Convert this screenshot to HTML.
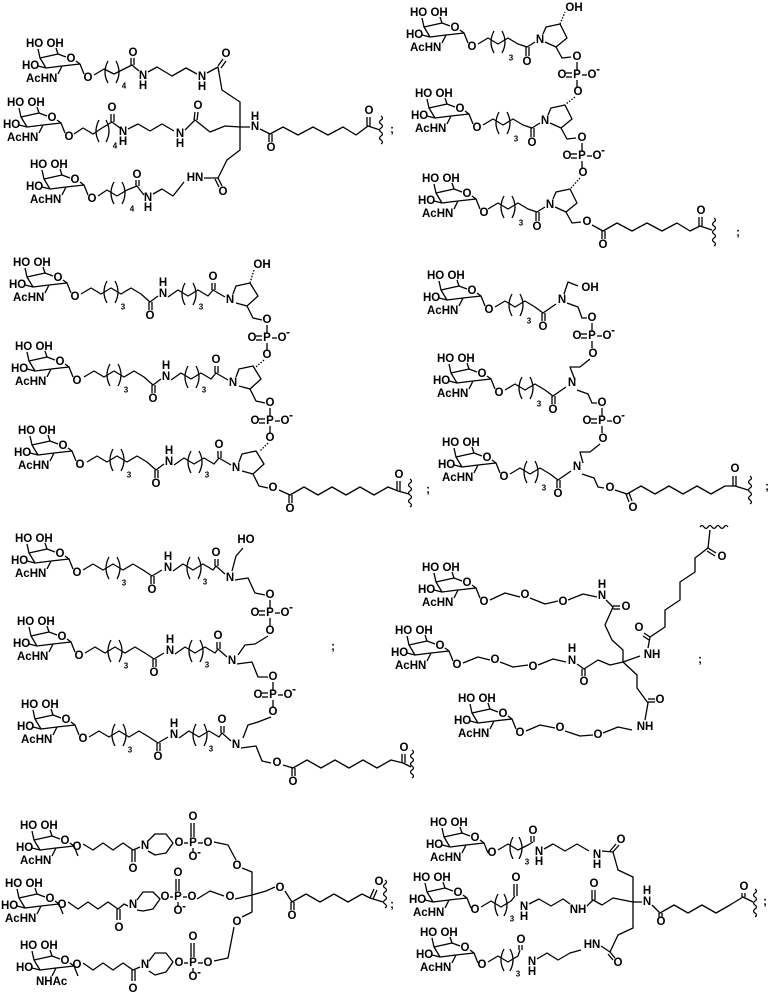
<!DOCTYPE html>
<html><head><meta charset="utf-8"><style>
html,body{margin:0;padding:0;background:#fff}
svg{display:block}
text{font-family:"Liberation Sans",Arial,sans-serif;font-weight:bold;font-size:11.5px;fill:#000;text-anchor:middle;dominant-baseline:central}
text.s{text-anchor:start;dominant-baseline:auto}
text.sub{font-size:8px}
.l{fill:none;stroke:#000;stroke-width:1.3;stroke-linejoin:round}
</style></head><body>
<svg width="770" height="1000" viewBox="0 0 770 1000" xmlns="http://www.w3.org/2000/svg">
<defs>
<g id="sg" class="l">
<polyline points="12,11 14,20 32,16 40,19"/>
<polyline points="32,16 30,10"/>
<polyline points="14,20 20,30 36,28 54,26 50,23"/>
<polyline points="12,28 20,30"/>
<polyline points="36,28 32,36"/>
<polyline points="54,26 58,36"/>
</g>
<path id="sq" class="l" d="M0,0 q3,2 0,4 q-3,2 0,4 q3,2 0,4 q-3,2 0,4 q3,2 0,4 q-3,2 0,4 q3,2 0,4"/>
<path id="sqh" class="l" d="M0,0 q2,-3 4,0 q2,3 4,0 q2,-3 4,0 q2,3 4,0 q2,-3 4,0 q2,3 4,0 q2,-3 4,0"/>
<path id="pl" class="l" d="M4,-11 Q-2,0 4,11"/>
<path id="pr" class="l" d="M-4,-11 Q2,0 -4,11"/>
</defs>

<!-- ring O labels -->
<g font-size="11">
<text x="71" y="59">O</text><text x="52" y="118">O</text><text x="75" y="180">O</text>
<text x="455" y="28">O</text><text x="460" y="109">O</text><text x="467" y="194">O</text>
<text x="58" y="278">O</text><text x="60" y="362">O</text><text x="63" y="446">O</text>
<text x="472" y="291">O</text><text x="482" y="374">O</text><text x="487" y="458">O</text>
<text x="60" y="554">O</text><text x="62" y="637">O</text><text x="66" y="720">O</text>
<text x="467" y="583">O</text><text x="440" y="646">O</text><text x="503" y="714">O</text>
<text x="65" y="841">O</text><text x="50" y="899">O</text><text x="65" y="961">O</text>
<text x="475" y="838">O</text><text x="458" y="893">O</text><text x="465" y="948">O</text>
</g>

<!-- S1 -->
<use href="#sg" x="26" y="38"/><text class="s" x="26" y="47">HO OH</text><text class="s" x="22" y="69">HO</text><text class="s" x="26" y="82">AcHN</text><text x="88" y="78">O</text>
<use href="#sg" x="7" y="97"/><text class="s" x="7" y="106">HO OH</text><text class="s" x="3" y="128">HO</text><text class="s" x="7" y="141">AcHN</text><text x="69" y="137">O</text>
<use href="#sg" x="30" y="159"/><text class="s" x="30" y="168">HO OH</text><text class="s" x="26" y="190">HO</text><text class="s" x="30" y="203">AcHN</text><text x="92" y="199">O</text>
<g>
<polyline class="l" points="94,75 104,69 114,74 124,69 132,65 139,71"/>
<polyline class="l" points="131,65 131,58"/><polyline class="l" points="134,65 134,58"/><text x="133" y="53">O</text>
<use href="#pl" x="104" y="72"/><use href="#pr" x="120" y="72"/><text class="sub" x="124" y="86">4</text>
<text x="143" y="76">N</text><text x="143" y="86">H</text>
<polyline class="l" points="148,72 157,67 172,76 186,68 197,74"/>
<text x="202" y="77">N</text><text x="202" y="87">H</text>
<polyline class="l" points="207,73 218,67 222,90 240,102 240,127"/>
<polyline class="l" points="218,66 223,59"/><polyline class="l" points="221,68 226,61"/><text x="226" y="54">O</text>

<polyline class="l" points="74,134 83,128 93,134 102,128 112,122 120,128"/>
<polyline class="l" points="111,122 111,114"/><polyline class="l" points="114,122 114,114"/><text x="112" y="108">O</text>
<use href="#pl" x="95" y="131"/><use href="#pr" x="110" y="131"/><text class="sub" x="115" y="146">4</text>
<text x="123" y="132">N</text><text x="123" y="142">H</text>
<polyline class="l" points="128,129 138,124 150,131 162,124 174,131"/>
<text x="180" y="134">N</text><text x="180" y="144">H</text>
<polyline class="l" points="185,130 195,120 210,132 225,126 240,127 250,127"/>
<polyline class="l" points="194,120 195,112"/><polyline class="l" points="197,120 198,112"/><text x="198" y="106">O</text>
<text x="255" y="127">N</text><text x="255" y="117">H</text>
<polyline class="l" points="260,129 270,134 283,127 298,135 313,127 328,135 343,127 356,135 368,126 380,130"/>
<polyline class="l" points="269,134 269,142"/><polyline class="l" points="272,134 272,142"/><text x="271" y="148">O</text>
<polyline class="l" points="367,126 367,117"/><polyline class="l" points="370,126 370,117"/><text x="369" y="111">O</text>
<use href="#sq" x="381" y="116"/><text x="392" y="130">;</text>

<polyline class="l" points="98,196 107,190 117,196 127,190 137,186 144,195"/>
<polyline class="l" points="136,186 136,180"/><polyline class="l" points="139,186 139,180"/><text x="137" y="175">O</text>
<use href="#pl" x="110" y="193"/><use href="#pr" x="126" y="193"/><text class="sub" x="132" y="209">4</text>
<text x="148" y="198">N</text><text x="148" y="208">H</text>
<polyline class="l" points="153,194 162,189 173,196 184,182"/>
<text x="195" y="178">HN</text>
<polyline class="l" points="204,178 218,178 227,160 240,150 240,127"/>
<polyline class="l" points="218,178 222,186"/><polyline class="l" points="215,179 219,187"/><text x="223" y="192">O</text>
</g>

<!-- S2 -->
<use href="#sg" x="410" y="7"/><text class="s" x="410" y="16">HO OH</text><text class="s" x="406" y="38">HO</text><text class="s" x="410" y="51">AcHN</text><text x="472" y="47">O</text>
<use href="#sg" x="415" y="88"/><text class="s" x="415" y="97">HO OH</text><text class="s" x="411" y="119">HO</text><text class="s" x="415" y="132">AcHN</text><text x="477" y="128">O</text>
<use href="#sg" x="422" y="173"/><text class="s" x="422" y="182">HO OH</text><text class="s" x="418" y="204">HO</text><text class="s" x="422" y="217">AcHN</text><text x="484" y="213">O</text>
<g>
<polyline class="l" points="478,44 488,38 498,44 508,38 518,44 527,47 535,42"/>
<polyline class="l" points="526,47 526,56"/><polyline class="l" points="529,47 529,56"/><text x="527" y="62">O</text>
<use href="#pl" x="490" y="42"/><use href="#pr" x="506" y="42"/><text class="sub" x="511" y="58">3</text>
<text x="540" y="40">N</text>
<polyline class="l" points="543,34 546,27 560,24 567,38 556,47 545,42"/>
<polyline class="l" points="560,24 565,12" stroke-dasharray="1.5,1.5"/><text x="574" y="8">OH</text>
<polyline class="l" points="556,47 562,58 571,57"/>
</g>
<g transform="translate(5,81)">
<polyline class="l" points="478,44 488,38 498,44 508,38 518,44 527,47 535,42"/>
<polyline class="l" points="526,47 526,56"/><polyline class="l" points="529,47 529,56"/><text x="527" y="62">O</text>
<use href="#pl" x="490" y="42"/><use href="#pr" x="506" y="42"/><text class="sub" x="511" y="58">3</text>
<text x="540" y="40">N</text>
<polyline class="l" points="543,34 546,27 560,24 567,38 556,47 545,42"/>
<polyline class="l" points="556,47 562,58 571,57"/>
</g>
<g transform="translate(10,165)">
<polyline class="l" points="478,44 488,38 498,44 508,38 518,44 527,47 535,42"/>
<polyline class="l" points="526,47 526,56"/><polyline class="l" points="529,47 529,56"/><text x="527" y="62">O</text>
<use href="#pl" x="490" y="42"/><use href="#pr" x="506" y="42"/><text class="sub" x="511" y="58">3</text>
<text x="540" y="40">N</text>
<polyline class="l" points="543,34 546,27 560,24 567,38 556,47 545,42"/>
<polyline class="l" points="556,47 562,58 571,57"/>
</g>
<text x="577" y="57">O</text><line class="l" x1="577" y1="62" x2="577" y2="70"/><text x="577" y="75">P</text><text x="562" y="75">O</text><line class="l" x1="566" y1="73" x2="572" y2="73"/><line class="l" x1="566" y1="77" x2="572" y2="77"/><line class="l" x1="582" y1="75" x2="587" y2="75"/><text x="592" y="75">O</text><text x="598" y="70">-</text><line class="l" x1="577" y1="80" x2="577" y2="87"/><text x="578" y="92">O</text>
<line class="l" x1="575" y1="97" x2="566" y2="104" stroke-dasharray="1.5,1.5"/>
<text x="582" y="138">O</text><line class="l" x1="582" y1="143" x2="582" y2="151"/><text x="582" y="156">P</text><text x="567" y="156">O</text><line class="l" x1="571" y1="154" x2="577" y2="154"/><line class="l" x1="571" y1="158" x2="577" y2="158"/><line class="l" x1="587" y1="156" x2="592" y2="156"/><text x="597" y="156">O</text><text x="603" y="151">-</text><line class="l" x1="582" y1="161" x2="582" y2="168"/><text x="583" y="173">O</text>
<line class="l" x1="580" y1="178" x2="571" y2="188" stroke-dasharray="1.5,1.5"/>
<text x="587" y="222">O</text>
<polyline class="l" points="592,225 603,231 617,223 632,231 647,223 662,231 677,223 690,231 700,226 712,230"/>
<polyline class="l" points="602,231 602,239"/><polyline class="l" points="605,231 605,239"/><text x="603" y="245">O</text>
<polyline class="l" points="699,226 699,217"/><polyline class="l" points="702,226 702,217"/><text x="701" y="211">O</text>
<use href="#sq" x="714" y="218"/><text x="738" y="233">;</text>

<!-- S3 -->
<use href="#sg" x="13" y="257"/><text class="s" x="13" y="266">HO OH</text><text class="s" x="9" y="288">HO</text><text class="s" x="13" y="301">AcHN</text><text x="75" y="297">O</text>
<use href="#sg" x="15" y="341"/><text class="s" x="15" y="350">HO OH</text><text class="s" x="11" y="372">HO</text><text class="s" x="15" y="385">AcHN</text><text x="77" y="381">O</text>
<use href="#sg" x="18" y="425"/><text class="s" x="18" y="434">HO OH</text><text class="s" x="14" y="456">HO</text><text class="s" x="18" y="469">AcHN</text><text x="80" y="465">O</text>
<g>
<polyline class="l" points="81,294 91,288 101,294 111,288 121,294 131,288 141,294 150,302 158,296"/>
<polyline class="l" points="149,302 149,310"/><polyline class="l" points="152,302 152,310"/><text x="150" y="316">O</text>
<use href="#pl" x="103" y="292"/><use href="#pr" x="119" y="292"/><text class="sub" x="123" y="307">3</text>
<text x="163" y="294">N</text><text x="163" y="283">H</text>
<polyline class="l" points="168,297 178,290 188,296 198,290 208,296 213,290 225,297"/>
<use href="#pl" x="181" y="294"/><use href="#pr" x="197" y="294"/><text class="sub" x="201" y="307">3</text>
<polyline class="l" points="212,290 212,283"/><polyline class="l" points="215,290 215,283"/><text x="213" y="277">O</text>
<text x="230" y="300">N</text>
<polyline class="l" points="233,294 236,286 250,283 258,296 247,306 236,303"/>
<polyline class="l" points="247,306 253,318 262,320"/>
</g>
<line class="l" x1="250" y1="283" x2="254" y2="270" stroke-dasharray="1.5,1.5"/><text x="262" y="265">OH</text>
<g transform="translate(3,83)">
<polyline class="l" points="81,294 91,288 101,294 111,288 121,294 131,288 141,294 150,302 158,296"/>
<polyline class="l" points="149,302 149,310"/><polyline class="l" points="152,302 152,310"/><text x="150" y="316">O</text>
<use href="#pl" x="103" y="292"/><use href="#pr" x="119" y="292"/><text class="sub" x="123" y="307">3</text>
<text x="163" y="294">N</text><text x="163" y="283">H</text>
<polyline class="l" points="168,297 178,290 188,296 198,290 208,296 213,290 225,297"/>
<use href="#pl" x="181" y="294"/><use href="#pr" x="197" y="294"/><text class="sub" x="201" y="307">3</text>
<polyline class="l" points="212,290 212,283"/><polyline class="l" points="215,290 215,283"/><text x="213" y="277">O</text>
<text x="230" y="300">N</text>
<polyline class="l" points="233,294 236,286 250,283 258,296 247,306 236,303"/>
<polyline class="l" points="247,306 253,318 262,320"/>
</g>
<g transform="translate(6,168)">
<polyline class="l" points="81,294 91,288 101,294 111,288 121,294 131,288 141,294 150,302 158,296"/>
<polyline class="l" points="149,302 149,310"/><polyline class="l" points="152,302 152,310"/><text x="150" y="316">O</text>
<use href="#pl" x="103" y="292"/><use href="#pr" x="119" y="292"/><text class="sub" x="123" y="307">3</text>
<text x="163" y="294">N</text><text x="163" y="283">H</text>
<polyline class="l" points="168,297 178,290 188,296 198,290 208,296 213,290 225,297"/>
<use href="#pl" x="181" y="294"/><use href="#pr" x="197" y="294"/><text class="sub" x="201" y="307">3</text>
<polyline class="l" points="212,290 212,283"/><polyline class="l" points="215,290 215,283"/><text x="213" y="277">O</text>
<text x="230" y="300">N</text>
<polyline class="l" points="233,294 236,286 250,283 258,296 247,306 236,303"/>
<polyline class="l" points="247,306 253,318 262,320"/>
</g>
<text x="267" y="320">O</text><line class="l" x1="267" y1="325" x2="267" y2="333"/><text x="267" y="338">P</text><text x="252" y="338">O</text><line class="l" x1="256" y1="336" x2="262" y2="336"/><line class="l" x1="256" y1="340" x2="262" y2="340"/><line class="l" x1="272" y1="338" x2="277" y2="338"/><text x="282" y="338">O</text><text x="288" y="333">-</text><line class="l" x1="267" y1="343" x2="267" y2="350"/><text x="267" y="355">O</text>
<line class="l" x1="264" y1="360" x2="256" y2="367" stroke-dasharray="1.5,1.5"/>
<text x="270" y="403">O</text><line class="l" x1="270" y1="408" x2="270" y2="416"/><text x="270" y="421">P</text><text x="255" y="421">O</text><line class="l" x1="259" y1="419" x2="265" y2="419"/><line class="l" x1="259" y1="423" x2="265" y2="423"/><line class="l" x1="275" y1="421" x2="280" y2="421"/><text x="285" y="421">O</text><text x="291" y="416">-</text><line class="l" x1="270" y1="426" x2="270" y2="433"/><text x="270" y="438">O</text>
<line class="l" x1="268" y1="443" x2="260" y2="451" stroke-dasharray="1.5,1.5"/>
<text x="273" y="488">O</text>
<polyline class="l" points="279,490 290,495 304,487 318,495 332,487 346,495 360,487 374,495 388,487 398,491 409,494"/>
<polyline class="l" points="289,495 289,503"/><polyline class="l" points="292,495 292,503"/><text x="290" y="509">O</text>
<polyline class="l" points="397,491 397,481"/><polyline class="l" points="400,491 400,481"/><text x="399" y="475">O</text>
<use href="#sq" x="410" y="479"/><text x="428" y="490">;</text>

<!-- S4 -->
<use href="#sg" x="427" y="270"/><text class="s" x="427" y="279">HO OH</text><text class="s" x="423" y="301">HO</text><text class="s" x="427" y="314">AcHN</text><text x="489" y="310">O</text>
<use href="#sg" x="437" y="353"/><text class="s" x="437" y="362">HO OH</text><text class="s" x="433" y="384">HO</text><text class="s" x="437" y="397">AcHN</text><text x="499" y="393">O</text>
<use href="#sg" x="442" y="437"/><text class="s" x="442" y="446">HO OH</text><text class="s" x="438" y="468">HO</text><text class="s" x="442" y="481">AcHN</text><text x="504" y="477">O</text>
<g>
<polyline class="l" points="495,307 505,301 515,307 525,301 535,307 543,313 556,304"/>
<polyline class="l" points="542,313 542,321"/><polyline class="l" points="545,313 545,321"/><text x="543" y="327">O</text>
<use href="#pl" x="508" y="305"/><use href="#pr" x="524" y="305"/><text class="sub" x="529" y="321">3</text>
<text x="562" y="300">N</text>
</g>
<g transform="translate(10,83)">
<polyline class="l" points="495,307 505,301 515,307 525,301 535,307 543,313 556,304"/>
<polyline class="l" points="542,313 542,321"/><polyline class="l" points="545,313 545,321"/><text x="543" y="327">O</text>
<use href="#pl" x="508" y="305"/><use href="#pr" x="524" y="305"/><text class="sub" x="529" y="321">3</text>
<text x="562" y="300">N</text>
</g>
<g transform="translate(15,167)">
<polyline class="l" points="495,307 505,301 515,307 525,301 535,307 543,313 556,304"/>
<polyline class="l" points="542,313 542,321"/><polyline class="l" points="545,313 545,321"/><text x="543" y="327">O</text>
<use href="#pl" x="508" y="305"/><use href="#pr" x="524" y="305"/><text class="sub" x="529" y="321">3</text>
<text x="562" y="300">N</text>
</g>
<polyline class="l" points="564,294 568,282 578,286"/><text x="590" y="288">OH</text>
<polyline class="l" points="567,303 578,307 582,318 587,318"/>
<text x="592" y="318">O</text><line class="l" x1="592" y1="323" x2="592" y2="331"/><text x="592" y="336">P</text><text x="577" y="336">O</text><line class="l" x1="581" y1="334" x2="587" y2="334"/><line class="l" x1="581" y1="338" x2="587" y2="338"/><line class="l" x1="597" y1="336" x2="602" y2="336"/><text x="607" y="336">O</text><text x="613" y="331">-</text><line class="l" x1="592" y1="341" x2="592" y2="348"/><text x="593" y="354">O</text>
<polyline class="l" points="590,359 580,367 570,367 575,380"/>
<polyline class="l" points="577,390 588,394 592,403 597,403"/>
<text x="602" y="403">O</text><line class="l" x1="602" y1="408" x2="602" y2="416"/><text x="602" y="421">P</text><text x="587" y="421">O</text><line class="l" x1="591" y1="419" x2="597" y2="419"/><line class="l" x1="591" y1="423" x2="597" y2="423"/><line class="l" x1="607" y1="421" x2="612" y2="421"/><text x="617" y="421">O</text><text x="623" y="416">-</text><line class="l" x1="602" y1="426" x2="602" y2="433"/><text x="603" y="439">O</text>
<polyline class="l" points="600,444 590,452 580,452 583,463"/>
<polyline class="l" points="582,474 594,478 598,487 604,488"/><text x="610" y="488">O</text>
<polyline class="l" points="615,490 627,494 641,486 655,494 669,486 683,494 697,486 711,494 725,486 735,486 748,490"/>
<polyline class="l" points="626,494 629,502"/><polyline class="l" points="629,493 632,501"/><text x="633" y="508">O</text>
<polyline class="l" points="733,486 733,476"/><polyline class="l" points="736,486 736,476"/><text x="735" y="469">O</text>
<use href="#sq" x="750" y="476"/><text x="767" y="487">;</text>

<!-- S5 -->
<use href="#sg" x="15" y="533"/><text class="s" x="15" y="542">HO OH</text><text class="s" x="11" y="564">HO</text><text class="s" x="15" y="577">AcHN</text><text x="77" y="573">O</text>
<use href="#sg" x="17" y="616"/><text class="s" x="17" y="625">HO OH</text><text class="s" x="13" y="647">HO</text><text class="s" x="17" y="660">AcHN</text><text x="79" y="656">O</text>
<use href="#sg" x="21" y="699"/><text class="s" x="21" y="708">HO OH</text><text class="s" x="17" y="730">HO</text><text class="s" x="21" y="743">AcHN</text><text x="83" y="739">O</text>
<g>
<polyline class="l" points="83,570 93,564 103,570 113,564 123,570 133,564 143,570 152,576 162,570"/>
<polyline class="l" points="151,576 151,584"/><polyline class="l" points="154,576 154,584"/><text x="152" y="590">O</text>
<use href="#pl" x="105" y="568"/><use href="#pr" x="121" y="568"/><text class="sub" x="124" y="583">3</text>
<text x="168" y="568">N</text><text x="168" y="557">H</text>
<polyline class="l" points="173,571 183,564 193,570 203,564 213,570 216,566 225,574"/>
<use href="#pl" x="186" y="568"/><use href="#pr" x="202" y="568"/><text class="sub" x="205" y="582">3</text>
<polyline class="l" points="215,566 215,559"/><polyline class="l" points="218,566 218,559"/><text x="216" y="553">O</text>
<text x="230" y="578">N</text>
</g>
<g transform="translate(2,83)">
<polyline class="l" points="83,570 93,564 103,570 113,564 123,570 133,564 143,570 152,576 162,570"/>
<polyline class="l" points="151,576 151,584"/><polyline class="l" points="154,576 154,584"/><text x="152" y="590">O</text>
<use href="#pl" x="105" y="568"/><use href="#pr" x="121" y="568"/><text class="sub" x="124" y="583">3</text>
<text x="168" y="568">N</text><text x="168" y="557">H</text>
<polyline class="l" points="173,571 183,564 193,570 203,564 213,570 216,566 225,574"/>
<use href="#pl" x="186" y="568"/><use href="#pr" x="202" y="568"/><text class="sub" x="205" y="582">3</text>
<polyline class="l" points="215,566 215,559"/><polyline class="l" points="218,566 218,559"/><text x="216" y="553">O</text>
<text x="230" y="578">N</text>
</g>
<g transform="translate(6,167)">
<polyline class="l" points="83,570 93,564 103,570 113,564 123,570 133,564 143,570 152,576 162,570"/>
<polyline class="l" points="151,576 151,584"/><polyline class="l" points="154,576 154,584"/><text x="152" y="590">O</text>
<use href="#pl" x="105" y="568"/><use href="#pr" x="121" y="568"/><text class="sub" x="124" y="583">3</text>
<text x="168" y="568">N</text><text x="168" y="557">H</text>
<polyline class="l" points="173,571 183,564 193,570 203,564 213,570 216,566 225,574"/>
<use href="#pl" x="186" y="568"/><use href="#pr" x="202" y="568"/><text class="sub" x="205" y="582">3</text>
<polyline class="l" points="215,566 215,559"/><polyline class="l" points="218,566 218,559"/><text x="216" y="553">O</text>
<text x="230" y="578">N</text>
</g>
<polyline class="l" points="232,571 236,556 243,548"/><text x="246" y="540">HO</text>
<polyline class="l" points="235,580 248,578 255,593 265,595"/>
<text x="270" y="595">O</text><line class="l" x1="270" y1="600" x2="270" y2="608"/><text x="270" y="613">P</text><text x="255" y="613">O</text><line class="l" x1="259" y1="611" x2="265" y2="611"/><line class="l" x1="259" y1="615" x2="265" y2="615"/><line class="l" x1="275" y1="613" x2="280" y2="613"/><text x="285" y="613">O</text><text x="291" y="608">-</text><line class="l" x1="270" y1="618" x2="270" y2="626"/><text x="270" y="631">O</text>
<polyline class="l" points="268,636 255,644 245,645 238,655"/>
<polyline class="l" points="237,664 252,662 258,677 268,677"/>
<text x="273" y="677">O</text><line class="l" x1="273" y1="682" x2="273" y2="690"/><text x="273" y="695">P</text><text x="258" y="695">O</text><line class="l" x1="262" y1="693" x2="268" y2="693"/><line class="l" x1="262" y1="697" x2="268" y2="697"/><line class="l" x1="278" y1="695" x2="283" y2="695"/><text x="288" y="695">O</text><text x="294" y="690">-</text><line class="l" x1="273" y1="700" x2="273" y2="707"/><text x="273" y="712">O</text>
<polyline class="l" points="271,717 258,722 248,725 243,738"/>
<polyline class="l" points="241,748 256,746 262,761 271,763"/><text x="277" y="763">O</text>
<polyline class="l" points="283,765 293,768 307,760 321,768 335,760 349,768 363,760 377,768 391,760 403,763 411,767"/>
<polyline class="l" points="292,768 292,776"/><polyline class="l" points="295,768 295,776"/><text x="293" y="782">O</text>
<polyline class="l" points="402,763 402,754"/><polyline class="l" points="405,763 405,754"/><text x="404" y="748">O</text>
<use href="#sq" x="412" y="750"/><text x="333" y="647">;</text>

<!-- S6 -->
<use href="#sg" x="422" y="562"/><text class="s" x="422" y="571">HO OH</text><text class="s" x="418" y="593">HO</text><text class="s" x="422" y="606">AcHN</text><text x="484" y="602">O</text>
<use href="#sg" x="395" y="625"/><text class="s" x="395" y="634">HO OH</text><text class="s" x="391" y="656">HO</text><text class="s" x="395" y="669">AcHN</text><text x="457" y="665">O</text>
<use href="#sg" x="458" y="693"/><text class="s" x="458" y="702">HO OH</text><text class="s" x="454" y="724">HO</text><text class="s" x="458" y="737">AcHN</text><text x="520" y="733">O</text>
<polyline class="l" points="490,600 505,593 520,597"/><text x="525" y="595">O</text>
<polyline class="l" points="530,598 545,604 558,601"/><text x="563" y="602">O</text>
<polyline class="l" points="568,600 583,594 597,597"/><text x="602" y="596">N</text><text x="602" y="585">H</text>
<polyline class="l" points="606,600 613,607 605,625 612,640 623,650 623,662"/>
<polyline class="l" points="613,606 620,606"/><polyline class="l" points="613,609 620,609"/><text x="626" y="607">O</text>
<polyline class="l" points="463,663 478,657 490,660"/><text x="495" y="660">O</text>
<polyline class="l" points="500,662 513,667 528,665"/><text x="533" y="667">O</text>
<polyline class="l" points="538,665 553,659 566,662"/><text x="572" y="661">N</text><text x="572" y="649">H</text>
<polyline class="l" points="577,664 584,669 598,660 610,665 623,662"/>
<polyline class="l" points="582,669 582,676"/><polyline class="l" points="585,669 585,676"/><text x="584" y="682">O</text>
<polyline class="l" points="526,731 540,725 555,728"/><text x="560" y="728">O</text>
<polyline class="l" points="565,731 580,736 593,735"/><text x="598" y="735">O</text>
<polyline class="l" points="603,733 618,727 632,730"/><text x="645" y="727">NH</text>
<polyline class="l" points="645,720 648,703 637,688 637,675 623,662"/>
<polyline class="l" points="648,702 655,702"/><polyline class="l" points="648,699 655,699"/><text x="660" y="700">O</text>
<polyline class="l" points="623,662 640,656"/><text x="652" y="655">NH</text>
<polyline class="l" points="648,648 650,637 665,627 665,610 680,600 680,582 695,572 695,558 708,548 710,530"/>
<polyline class="l" points="650,637 644,633"/><polyline class="l" points="649,640 643,636"/><text x="639" y="628">O</text>
<polyline class="l" points="708,548 716,553"/><polyline class="l" points="707,551 715,556"/><text x="722" y="557">O</text>
<use href="#sqh" x="700" y="527"/><text x="700" y="660">;</text>

<!-- S7 -->
<use href="#sg" x="20" y="820"/><text class="s" x="20" y="829">HO OH</text><text class="s" x="16" y="851">HO</text><text class="s" x="20" y="864">AcHN</text><text x="77" y="847">O</text>
<use href="#sg" x="5" y="878"/><text class="s" x="5" y="887">HO OH</text><text class="s" x="1" y="909">HO</text><text class="s" x="5" y="922">AcHN</text><text x="62" y="905">O</text>
<use href="#sg" x="20" y="940"/><text class="s" x="20" y="949">HO OH</text><text class="s" x="16" y="971">HO</text><text class="s" x="36" y="985">NHAc</text><text x="77" y="965">O</text>
<polyline class="l" points="83,844 93,850 103,843 113,850 123,843 133,850 140,847"/>
<polyline class="l" points="132,850 132,862"/><polyline class="l" points="135,850 135,862"/><text x="133" y="869">O</text>
<text x="145" y="846">N</text><polyline class="l" points="148,841 155,834 166,834 173,843 166,853 155,855 148,851"/>
<text x="179" y="843">O</text><line class="l" x1="184" y1="843" x2="188" y2="843"/><text x="193" y="843">P</text>
<line class="l" x1="191" y1="823" x2="191" y2="837"/><line class="l" x1="194" y1="823" x2="194" y2="837"/><text x="193" y="817">O</text>
<line class="l" x1="193" y1="848" x2="193" y2="852"/><text x="193" y="857">O</text><text x="199" y="853">-</text>
<line class="l" x1="198" y1="843" x2="203" y2="843"/><text x="208" y="843">O</text>
<polyline class="l" points="214,842 228,845 236,860"/><text x="237" y="866">O</text>
<polyline class="l" points="242,868 252,872 252,895"/>
<polyline class="l" points="68,902 78,909 88,902 98,909 108,902 118,909 124,904 128,906"/>
<polyline class="l" points="117,909 117,920"/><polyline class="l" points="120,909 120,920"/><text x="119" y="928">O</text>
<text x="133" y="905">N</text><polyline class="l" points="137,900 143,892 153,892 160,899 153,909 143,911 137,910"/>
<text x="165" y="897">O</text><line class="l" x1="170" y1="897" x2="173" y2="897"/><text x="178" y="897">P</text>
<line class="l" x1="176" y1="879" x2="176" y2="891"/><line class="l" x1="179" y1="879" x2="179" y2="891"/><text x="178" y="873">O</text>
<line class="l" x1="178" y1="902" x2="178" y2="906"/><text x="178" y="911">O</text><text x="184" y="907">-</text>
<line class="l" x1="183" y1="897" x2="187" y2="897"/><text x="192" y="897">O</text>
<polyline class="l" points="197,899 210,891 224,896"/><text x="230" y="897">O</text>
<polyline class="l" points="235,899 252,895 266,891 275,887"/><text x="280" y="888">O</text>
<polyline class="l" points="285,891 292,902 306,894 320,902 334,894 348,902 362,894 370,898 383,902"/>
<polyline class="l" points="291,902 291,910"/><polyline class="l" points="294,902 294,910"/><text x="292" y="916">O</text>
<polyline class="l" points="370,898 374,889"/><polyline class="l" points="373,899 377,890"/><text x="379" y="882">O</text>
<use href="#sq" x="385" y="880"/><text x="392" y="905">;</text>
<polyline class="l" points="83,963 93,970 103,963 113,970 123,963 133,970 140,967"/>
<polyline class="l" points="132,970 132,981"/><polyline class="l" points="135,970 135,981"/><text x="133" y="989">O</text>
<text x="145" y="965">N</text><polyline class="l" points="149,961 155,953 166,953 173,962 166,972 155,975 149,971"/>
<text x="179" y="963">O</text><line class="l" x1="184" y1="963" x2="188" y2="963"/><text x="193" y="963">P</text>
<line class="l" x1="191" y1="943" x2="191" y2="957"/><line class="l" x1="194" y1="943" x2="194" y2="957"/><text x="193" y="937">O</text>
<line class="l" x1="193" y1="968" x2="193" y2="972"/><text x="193" y="977">O</text><text x="199" y="973">-</text>
<line class="l" x1="198" y1="963" x2="203" y2="963"/><text x="208" y="963">O</text>
<polyline class="l" points="214,961 228,958 234,927"/><text x="237" y="922">O</text>
<polyline class="l" points="242,917 252,912 252,895"/>

<!-- S8 -->
<use href="#sg" x="430" y="817"/><text class="s" x="430" y="826">HO OH</text><text class="s" x="426" y="848">HO</text><text class="s" x="430" y="861">AcHN</text><text x="492" y="853">O</text>
<use href="#sg" x="413" y="872"/><text class="s" x="413" y="881">HO OH</text><text class="s" x="409" y="903">HO</text><text class="s" x="413" y="916">AcHN</text><text x="475" y="910">O</text>
<use href="#sg" x="420" y="927"/><text class="s" x="420" y="936">HO OH</text><text class="s" x="416" y="958">HO</text><text class="s" x="420" y="971">AcHN</text><text x="482" y="965">O</text>
<polyline class="l" points="498,850 508,844 518,850 528,845 533,842"/>
<polyline class="l" points="531,842 531,836"/><polyline class="l" points="534,842 534,836"/><text x="533" y="831">O</text>
<use href="#pl" x="509" y="848"/><use href="#pr" x="523" y="848"/><text class="sub" x="527" y="862">3</text>
<text x="539" y="852">N</text><text x="539" y="862">H</text>
<polyline class="l" points="544,849 553,844 565,851 577,844 589,851"/>
<text x="597" y="855">N</text><text x="597" y="865">H</text>
<polyline class="l" points="602,851 613,852 618,870 633,877 633,902"/>
<polyline class="l" points="613,852 619,845"/><polyline class="l" points="610,851 616,844"/><text x="621" y="840">O</text>
<polyline class="l" points="481,907 491,901 501,907 511,901 515,896"/>
<polyline class="l" points="514,896 514,884"/><polyline class="l" points="517,896 517,884"/><text x="516" y="878">O</text>
<use href="#pl" x="494" y="905"/><use href="#pr" x="508" y="905"/><text class="sub" x="512" y="919">3</text>
<text x="524" y="907">N</text><text x="524" y="917">H</text>
<polyline class="l" points="529,904 539,899 551,906 563,899 570,904"/><text x="578" y="910">NH</text>
<polyline class="l" points="587,906 593,900 602,905 613,898 633,902"/>
<polyline class="l" points="592,900 592,890"/><polyline class="l" points="595,900 595,890"/><text x="594" y="884">O</text>
<polyline class="l" points="488,962 498,956 508,962 518,956 520,950"/>
<polyline class="l" points="519,950 519,945"/><polyline class="l" points="522,950 522,945"/><text x="521" y="940">O</text>
<use href="#pl" x="500" y="960"/><use href="#pr" x="514" y="960"/><text class="sub" x="518" y="974">3</text>
<text x="532" y="962">N</text><text x="532" y="972">H</text>
<polyline class="l" points="537,959 547,953 558,960 570,953 581,950"/><text x="592" y="945">HN</text>
<polyline class="l" points="601,946 610,952 618,935 633,928 633,902"/>
<polyline class="l" points="610,952 615,958"/><polyline class="l" points="608,954 613,960"/><text x="618" y="963">O</text>
<polyline class="l" points="633,902 642,902"/><text x="647" y="902">N</text><text x="647" y="891">H</text>
<polyline class="l" points="652,905 660,913 674,905 688,913 702,905 716,913 730,905 743,897 753,902"/>
<polyline class="l" points="659,913 659,917"/><polyline class="l" points="662,913 662,917"/><text x="661" y="922">O</text>
<polyline class="l" points="742,897 742,893"/><polyline class="l" points="745,897 745,893"/><text x="744" y="887">O</text>
<use href="#sq" x="755" y="889"/><text x="765" y="902">;</text>
</svg>
</body></html>
